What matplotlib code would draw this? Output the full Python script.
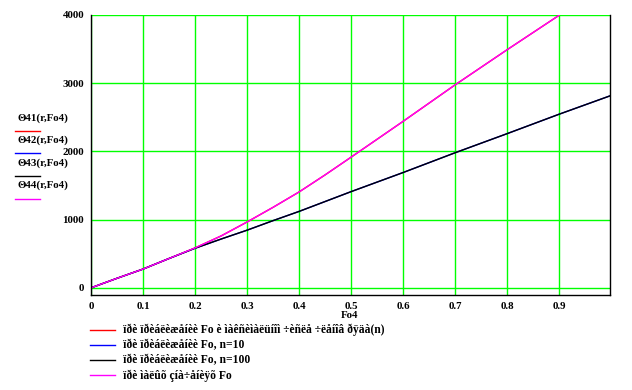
import numpy as np
import matplotlib
matplotlib.use("Agg")
from matplotlib import pyplot as plt
from matplotlib.lines import Line2D

# values
fo = [0.0, 0.05, 0.1, 0.15, 0.2, 0.25, 0.3, 0.35, 0.4, 0.45, 0.5, 0.6, 0.7, 0.8, 0.9, 1.0]
theta_n10 = [0, 140, 275, 430, 580, 715, 845, 985, 1120, 1265, 1410, 1690, 1980, 2260, 2545, 2820]
theta_n100 = [0, 140, 275, 430, 580, 715, 845, 985, 1120, 1265, 1410, 1690, 1980, 2260, 2545, 2820]
fo_small = [0.0, 0.05, 0.1, 0.15, 0.2, 0.25, 0.3, 0.35, 0.4, 0.45, 0.5, 0.6, 0.7, 0.8, 0.9]
theta_max_n = [0, 140, 275, 430, 585, 760, 965, 1180, 1405, 1655, 1915, 2440, 2975, 3490, 3995]
theta_small = [0, 140, 275, 430, 585, 760, 965, 1180, 1405, 1655, 1915, 2440, 2975, 3490, 3995]

x_ticks = [0, 0.1, 0.2, 0.3, 0.4, 0.5, 0.6, 0.7, 0.8, 0.9]
x_tick_labels = ["0", "0.1", "0.2", "0.3", "0.4", "0.5", "0.6", "0.7", "0.8", "0.9"]
y_ticks = [0, 1000, 2000, 3000, 4000]

side_labels = ["\u039841(r,Fo4)", "\u039842(r,Fo4)", "\u039843(r,Fo4)", "\u039844(r,Fo4)"]
bottom_labels = [
    "ïðè ïðèáëèæåíèè Fo è ìàêñèìàëüíîì ÷èñëå ÷ëåíîâ ðÿäà(n)",
    "ïðè ïðèáëèæåíèè Fo, n=10",
    "ïðè ïðèáëèæåíèè Fo, n=100",
    "ïðè ìàëûõ çíà÷åíèÿõ Fo",
]
colors = ["#ff0000", "#0000ff", "#000000", "#ff00ff"]

font = dict(family="Liberation Serif", weight="bold", size=7.8)
legend_font = dict(family="Liberation Serif", weight="bold", size=8.4)

fig = plt.figure(figsize=(6.32, 3.90), dpi=100)
ax = fig.add_axes([91 / 632, 1 - 295 / 390, 519 / 632, 280 / 390])

ax.plot(fo_small, theta_max_n, color=colors[0], lw=1.0)
ax.plot(fo, theta_n10, color=colors[1], lw=1.0)
ax.plot(fo, theta_n100, color=colors[2], lw=1.0)
ax.plot(fo_small, theta_small, color=colors[3], lw=1.0)

ax.set_xlim(0, 0.998)
ax.set_ylim(-105, 4000)
ax.set_xticks(x_ticks)
ax.set_xticklabels(x_tick_labels, fontdict=font)
ax.set_yticks(y_ticks)
ax.set_yticklabels([str(v) for v in y_ticks], fontdict=font)
ax.tick_params(length=0, pad=5)
ax.grid(True, color="#00ff00", lw=1.0)
ax.set_axisbelow(True)
for s in ["left", "bottom", "right"]:
    ax.spines[s].set_color("black")
    ax.spines[s].set_linewidth(1.0)
    ax.spines[s].set_zorder(3)
ax.spines["top"].set_visible(False)

fig.text(350 / 632, 1 - 316 / 390, "Fo4", ha="center", va="center", **font)

# labels on the left side
for i, lab in enumerate(side_labels):
    y_text = 118 + i * 22.5
    fig.text(17 / 632, 1 - y_text / 390, lab, ha="left", va="center", **font)
    y_line = 1 - (y_text + 13) / 390
    fig.add_artist(Line2D([15 / 632, 40 / 632], [y_line, y_line], color=colors[i], lw=1.0))

# legend below the chart
for i, lab in enumerate(bottom_labels):
    y = 1 - (329.5 + i * 15.3) / 390
    fig.add_artist(Line2D([90 / 632, 115 / 632], [y, y], color=colors[i], lw=1.0))
    fig.text(123 / 632, y, lab, ha="left", va="center", **legend_font)

fig.savefig("out.png", dpi=100)
